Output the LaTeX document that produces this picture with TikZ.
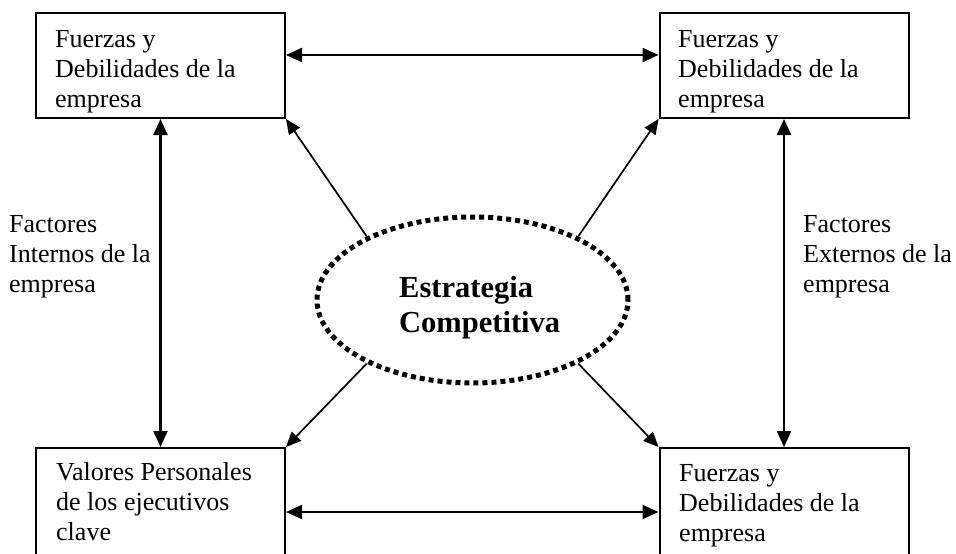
\documentclass[tikz,border=0pt]{standalone}
\usepackage{fontspec}
\setmainfont{Liberation Serif}
\usetikzlibrary{arrows.meta,shapes.geometric}
\newcommand{\mylines}[1]{\begin{tabular}[t]{@{}l@{}}#1\end{tabular}}
\begin{document}
\begin{tikzpicture}[x=1pt,y=-1pt,
  box/.style={draw,line width=2pt,inner sep=0pt,minimum width=249pt,minimum height=105pt},
  lowbox/.style={box,minimum height=110pt},
  txt/.style={anchor=base west,inner sep=0pt,font=\fontsize{26}{30}\selectfont},
  arr/.style={line width=2.2pt,{Triangle[length=16pt,width=14pt]}-{Triangle[length=16pt,width=14pt]}},
  diag/.style={line width=1.7pt,-{Triangle[length=15pt,width=13pt]}},
  oval/.style={ellipse,draw,line width=5pt,dash pattern=on 5pt off 4pt,minimum width=311pt,minimum height=166pt,inner sep=0pt},
  ]
\useasboundingbox (0,0) rectangle (956,554);
\node[box] (tl) at (160.5,65.5) {};
\node[box] (tr) at (784,65.5) {};
\node[lowbox] (bl) at (160.5,503) {};
\node[lowbox] (br) at (784,503) {};
\node[txt] (tlt) at (55,47) {\mylines{Fuerzas y\\Debilidades de la\\empresa}};
\node[txt] (trt) at (678,47) {\mylines{Fuerzas y\\Debilidades de la\\empresa}};
\node[txt] (blt) at (56,480) {\mylines{Valores Personales\\de los ejecutivos\\clave}};
\node[txt] (brt) at (679,481) {\mylines{Fuerzas y\\Debilidades de la\\empresa}};
\node[txt] (fi) at (9,232) {\mylines{Factores\\Internos de la\\empresa}};
\node[txt] (fe) at (803,232) {\mylines{Factores\\Externos de la\\empresa}};
\node[oval] (e) at (472.5,300) {};
\node[anchor=base west,inner sep=0pt,font=\bfseries\fontsize{30.5}{35}\selectfont] (et) at (399,297) {\mylines{Estrategia\\Competitiva}};
\draw[arr] ([yshift=10.5pt]tl.east) -- ([yshift=10.5pt]tr.west);
\draw[arr] ([yshift=-9pt]bl.east) -- ([yshift=-9pt]br.west);
\draw[arr] (tl.south) -- (bl.north);
\draw[arr] (tr.south) -- (br.north);
\draw[diag] (e.149) -- (tl.south east);
\draw[diag] (e.31) -- (tr.south west);
\draw[diag] (e.211) -- (bl.north east);
\draw[diag] (e.329) -- (br.north west);
\end{tikzpicture}
\end{document}
